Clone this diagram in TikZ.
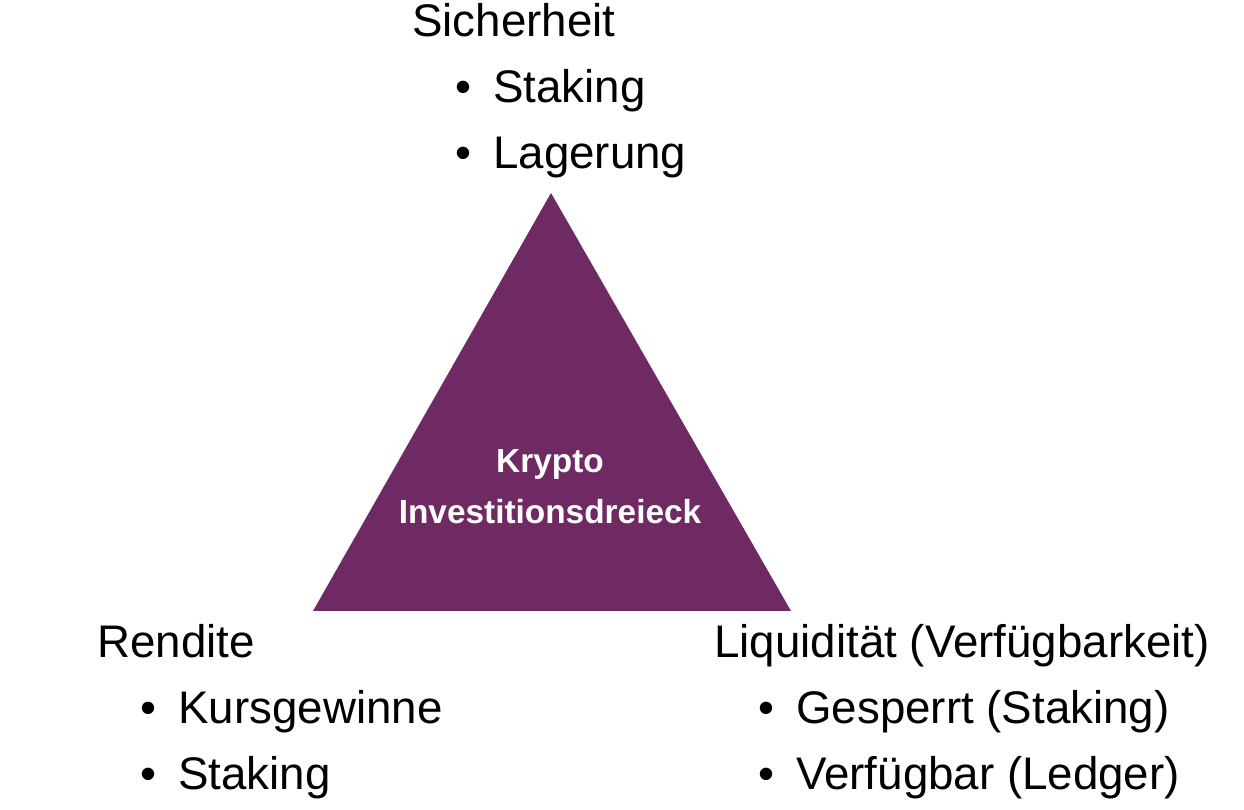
\documentclass[tikz,border=0pt]{standalone}
\usepackage{fontspec}
\setmainfont{Liberation Sans}
\usetikzlibrary{positioning}
\definecolor{krypto}{HTML}{6F2A63}

\begin{document}
\begin{tikzpicture}[
    title/.style={anchor=base west, inner sep=0pt, font=\fontsize{26}{31}\selectfont},
    item/.style={anchor=base west, inner sep=0pt, font=\fontsize{26}{31}\selectfont},
    center/.style={align=center, text=white, font=\fontsize{19}{29}\selectfont\bfseries}
]
\useasboundingbox (0,0) rectangle (24.88,16.2);

% Triangle
\coordinate (top) at (11.02,12.34);
\coordinate (left) at (6.26,3.98);
\coordinate (right) at (15.82,3.98);
\fill[krypto] (top) -- (left) -- (right) -- cycle;
\node[center] (dreieck) at (11.0,6.46) {Krypto\\Investitionsdreieck};

% Sicherheit
\node[title] (sicherheit) at (8.24,15.46) {Sicherheit};
\node[item] (sich_a) at (9.86,14.14) {\llap{\textbullet\hspace{0.44cm}}Staking};
\node[item] (sich_b) at (9.86,12.82) {\llap{\textbullet\hspace{0.44cm}}Lagerung};

% Rendite
\node[title] (rendite) at (1.94,3.04) {Rendite};
\node[item] (rend_a) at (3.56,1.72) {\llap{\textbullet\hspace{0.44cm}}Kursgewinne};
\node[item] (rend_b) at (3.56,0.40) {\llap{\textbullet\hspace{0.44cm}}Staking};

% Liquiditaet
\node[title] (liquiditaet) at (14.28,3.04) {Liquidität (Verfügbarkeit)};
\node[item] (liq_a) at (15.92,1.72) {\llap{\textbullet\hspace{0.44cm}}Gesperrt (Staking)};
\node[item] (liq_b) at (15.92,0.40) {\llap{\textbullet\hspace{0.44cm}}Verfügbar (Ledger)};
\end{tikzpicture}
\end{document}
